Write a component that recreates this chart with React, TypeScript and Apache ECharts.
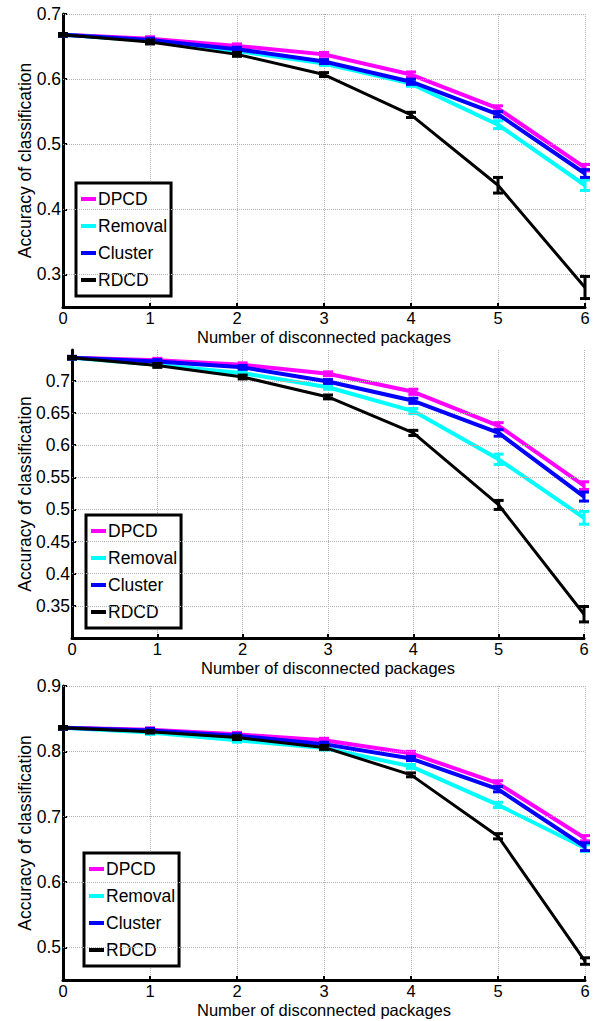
import React, { useEffect, useRef } from "react";
import * as echarts from "echarts";

const XS = [0, 1, 2, 3, 4, 5, 6];
const NAMES = ["DPCD", "Removal", "Cluster", "RDCD"];

// Panel 1
const P1_DPCD = [0.668, 0.662, 0.651, 0.638, 0.607, 0.555, 0.464];
const P1_REMOVAL = [0.668, 0.659, 0.643, 0.624, 0.593, 0.530, 0.437];
const P1_CLUSTER = [0.668, 0.660, 0.646, 0.627, 0.596, 0.546, 0.455];
const P1_RDCD = [0.668, 0.657, 0.638, 0.607, 0.545, 0.437, 0.280];
const P1_ERR_DPCD = [0.002, 0.003, 0.003, 0.003, 0.004, 0.004, 0.005];
const P1_ERR_REMOVAL = [0.002, 0.003, 0.003, 0.003, 0.004, 0.006, 0.008];
const P1_ERR_CLUSTER = [0.002, 0.003, 0.003, 0.003, 0.004, 0.004, 0.006];
const P1_ERR_RDCD = [0.002, 0.003, 0.003, 0.003, 0.004, 0.012, 0.017];
const P1_YTICKS = [0.3, 0.4, 0.5, 0.6, 0.7];

// Panel 2
const P2_DPCD = [0.736, 0.732, 0.725, 0.711, 0.683, 0.630, 0.537];
const P2_REMOVAL = [0.736, 0.725, 0.712, 0.690, 0.653, 0.578, 0.487];
const P2_CLUSTER = [0.736, 0.730, 0.721, 0.699, 0.669, 0.619, 0.520];
const P2_RDCD = [0.736, 0.724, 0.706, 0.675, 0.619, 0.507, 0.337];
const P2_ERR_DPCD = [0.002, 0.003, 0.003, 0.003, 0.004, 0.005, 0.006];
const P2_ERR_REMOVAL = [0.002, 0.003, 0.003, 0.003, 0.004, 0.008, 0.010];
const P2_ERR_CLUSTER = [0.002, 0.003, 0.003, 0.003, 0.004, 0.005, 0.007];
const P2_ERR_RDCD = [0.002, 0.003, 0.003, 0.003, 0.004, 0.007, 0.012];
const P2_YTICKS = [0.35, 0.4, 0.45, 0.5, 0.55, 0.6, 0.65, 0.7];

// Panel 3
const P3_DPCD = [0.836, 0.833, 0.826, 0.817, 0.797, 0.751, 0.667];
const P3_REMOVAL = [0.836, 0.829, 0.817, 0.805, 0.777, 0.718, 0.652];
const P3_CLUSTER = [0.836, 0.832, 0.824, 0.811, 0.789, 0.742, 0.654];
const P3_RDCD = [0.836, 0.830, 0.821, 0.806, 0.764, 0.670, 0.479];
const P3_ERR_DPCD = [0.002, 0.003, 0.003, 0.003, 0.003, 0.004, 0.004];
const P3_ERR_REMOVAL = [0.002, 0.003, 0.003, 0.003, 0.003, 0.004, 0.005];
const P3_ERR_CLUSTER = [0.002, 0.003, 0.003, 0.003, 0.003, 0.004, 0.006];
const P3_ERR_RDCD = [0.002, 0.002, 0.003, 0.003, 0.003, 0.004, 0.005];
const P3_YTICKS = [0.5, 0.6, 0.7, 0.8, 0.9];

const COLORS = ["#ff00ff", "#00ffff", "#0000ff", "#000000"];
const WIDTHS = [4, 4, 4, 3];
const FONT = "Liberation Sans, Arial, Helvetica, sans-serif";
const FS = 17.5;
const FSX = 16.5;

const PANELS = [
  {
    values: [P1_DPCD, P1_REMOVAL, P1_CLUSTER, P1_RDCD],
    errs: [P1_ERR_DPCD, P1_ERR_REMOVAL, P1_ERR_CLUSTER, P1_ERR_RDCD],
    ticks: P1_YTICKS, min: 0.25, max: 0.7, grid: { left: 63, top: 14, width: 522, height: 293 },
    legend: { left: 76, top: 183 }, nameGap: 29,
  },
  {
    values: [P2_DPCD, P2_REMOVAL, P2_CLUSTER, P2_RDCD],
    errs: [P2_ERR_DPCD, P2_ERR_REMOVAL, P2_ERR_CLUSTER, P2_ERR_RDCD],
    ticks: P2_YTICKS, min: 0.3, max: 0.748, grid: { left: 72, top: 350, width: 512, height: 288 },
    legend: { left: 86, top: 515 }, nameGap: 38,
  },
  {
    values: [P3_DPCD, P3_REMOVAL, P3_CLUSTER, P3_RDCD],
    errs: [P3_ERR_DPCD, P3_ERR_REMOVAL, P3_ERR_CLUSTER, P3_ERR_RDCD],
    ticks: P3_YTICKS, min: 0.45, max: 0.9, grid: { left: 63, top: 686, width: 522, height: 294 },
    legend: { left: 84, top: 853 }, nameGap: 29,
  },
];

export default function App() {
  const ref = useRef<HTMLDivElement>(null);
  useEffect(() => {
    if (!ref.current) return;
    const chart = echarts.init(ref.current, undefined, { renderer: "svg" });
    const grids: any[] = [];
    const xAxes: any[] = [];
    const yAxes: any[] = [];
    const legends: any[] = [];
    const series: any[] = [];
    PANELS.forEach((p, gi) => {
      grids.push({ ...p.grid, containLabel: false });
      xAxes.push({
        type: "value", gridIndex: gi, min: 0, max: 6, interval: 1,
        name: "Number of disconnected packages", nameLocation: "middle", nameGap: 21,
        nameMoveOverlap: false,
        nameTextStyle: { fontFamily: FONT, fontSize: FSX, color: "#000" },
        axisLine: { lineStyle: { color: "#000", width: 3 } },
        axisTick: { inside: true, length: 4, lineStyle: { color: "#000", width: 2 } },
        axisLabel: { fontFamily: FONT, fontSize: FSX, color: "#000", margin: 2 },
        splitLine: { show: true, lineStyle: { color: "#b0b0b0", type: [1, 1], width: 1 } },
      });
      const tickSet = p.ticks;
      yAxes.push({
        type: "value", gridIndex: gi, min: p.min, max: p.max,
        name: "Accuracy of classification", nameLocation: "middle", nameGap: p.nameGap,
        nameMoveOverlap: false,
        nameTextStyle: { fontFamily: FONT, fontSize: FS, color: "#000" },
        axisLine: { show: true, lineStyle: { color: "#000", width: 3 } },
        axisTick: { show: true, inside: true, length: 4, customValues: tickSet, lineStyle: { color: "#000", width: 2 } },
        axisLabel: { fontFamily: FONT, fontSize: FS, color: "#000", margin: 2, customValues: tickSet },
        splitLine: { show: false },
      });
      legends.push({
        data: NAMES, orient: "vertical", left: p.legend.left, top: p.legend.top,
        itemWidth: 15, itemHeight: 4, itemGap: 9,
        padding: [7, 4, 7, 3], borderColor: "#000", borderWidth: 3, backgroundColor: "#fff",
        lineStyle: { width: 4 },
        textStyle: { fontFamily: FONT, fontSize: FS, color: "#000", padding: [0, 0, 0, -3] },
        selectedMode: false,
      });
      const gridLines = [...p.ticks];
      if (gi === 1) gridLines.push(p.max);
      series.push({
        type: "line", xAxisIndex: gi, yAxisIndex: gi, data: [], silent: true, z: 1,
        markLine: {
          silent: true, symbol: "none", label: { show: false },
          lineStyle: { color: "#b0b0b0", type: [1, 1], width: 1 },
          data: gridLines.map((v) => ({ yAxis: v })),
        },
      });
      NAMES.forEach((nm, si) => {
        const vals = p.values[si];
        const errs = p.errs[si];
        const color = COLORS[si];
        series.push({
          type: "line", name: nm, xAxisIndex: gi, yAxisIndex: gi,
          data: XS.map((x, i) => [x, vals[i]]),
          symbol: "none", color, lineStyle: { color, width: WIDTHS[si] }, z: 3 + si,
        });
        series.push({
          type: "custom", name: nm + " error", xAxisIndex: gi, yAxisIndex: gi, z: 3 + si,
          data: XS.map((x, i) => [x, vals[i] - errs[i], vals[i] + errs[i]]),
          encode: { x: 0, y: [1, 2] },
          renderItem: (params: any, api: any) => {
            const x = api.value(0);
            const lo = api.coord([x, api.value(1)]);
            const hi = api.coord([x, api.value(2)]);
            const hw = 5;
            const st = { stroke: color, lineWidth: 3 };
            return {
              type: "group",
              children: [
                { type: "line", shape: { x1: lo[0], y1: lo[1], x2: hi[0], y2: hi[1] }, style: st },
                { type: "line", shape: { x1: lo[0] - hw, y1: lo[1], x2: lo[0] + hw, y2: lo[1] }, style: st },
                { type: "line", shape: { x1: hi[0] - hw, y1: hi[1], x2: hi[0] + hw, y2: hi[1] }, style: st },
              ],
            };
          },
        });
      });
    });
    chart.setOption({
      animation: false,
      backgroundColor: "#fff",
      grid: grids,
      xAxis: xAxes,
      yAxis: yAxes,
      legend: legends,
      series,
    });
    return () => chart.dispose();
  }, []);
  return <div ref={ref} style={{ position: "fixed", left: 0, top: 0, width: 595, height: 1021 }} />;
}
